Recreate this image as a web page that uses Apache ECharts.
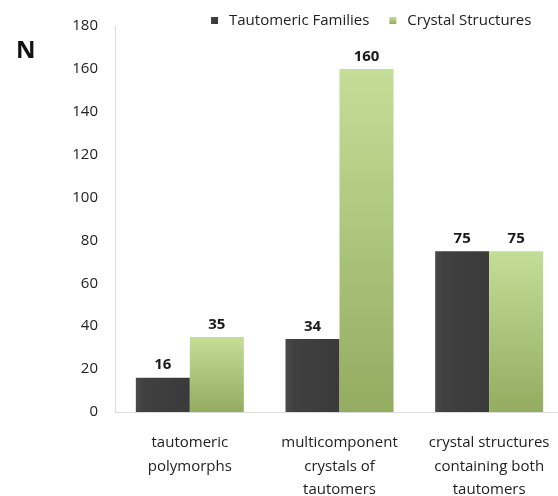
<!DOCTYPE html>
<html>
<head>
<meta charset="utf-8">
<script src="https://cdn.jsdelivr.net/npm/echarts@6/dist/echarts.min.js"></script>
<style>
  html, body { margin: 0; padding: 0; background: #fff; }
  #chart { width: 558px; height: 496px; }
</style>
</head>
<body>
<div id="chart"></div>
<script>
// Categories on the x axis (multi-line labels)
const categories = [
  'tautomeric\npolymorphs',
  'multicomponent\ncrystals of\ntautomers',
  'crystal structures\ncontaining both\ntautomers'
];
const seriesNames = ['Tautomeric Families', 'Crystal Structures'];
const tautomericFamilies = [16, 34, 75];
const crystalStructures = [35, 160, 75];
const yTicks = [0, 20, 40, 60, 80, 100, 120, 140, 160, 180];

const FONT = '"Open Sans", Lato, sans-serif';

const chart = echarts.init(document.getElementById('chart'), null, { renderer: 'canvas' });

const darkFill = new echarts.graphic.LinearGradient(0, 0, 1, 0, [
  { offset: 0, color: '#4a4a4a' },
  { offset: 0.15, color: '#404040' },
  { offset: 1, color: '#3a3a3a' }
]);
const greenFill = new echarts.graphic.LinearGradient(0, 0, 0, 1, [
  { offset: 0, color: '#c4de98' },
  { offset: 1, color: '#93ac60' }
]);

const valueLabel = {
  show: true,
  position: 'top',
  distance: 5,
  fontFamily: FONT,
  fontWeight: 'bold',
  fontSize: 15,
  color: '#1a1a1a'
};

chart.setOption({
  backgroundColor: '#ffffff',
  animation: false,
  textStyle: { fontFamily: FONT },
  legend: {
    data: seriesNames,
    left: 206,
    top: 8,
    icon: 'rect',
    itemWidth: 7,
    itemHeight: 7,
    itemGap: 20,
    textStyle: { fontFamily: FONT, fontSize: 15, color: '#222', padding: [0, 0, 0, 6] }
  },
  grid: { left: 115, right: -6, top: 26, bottom: 84, containLabel: false, outerBoundsMode: 'none' },
  xAxis: {
    type: 'category',
    data: categories,
    axisLine: { show: true, lineStyle: { color: '#dcdcdc', width: 1 } },
    axisTick: { show: false },
    axisLabel: {
      fontFamily: FONT,
      fontSize: 15,
      color: '#222',
      lineHeight: 23.5,
      margin: 19,
      interval: 0
    }
  },
  yAxis: {
    type: 'value',
    min: yTicks[0],
    max: yTicks[yTicks.length - 1],
    interval: yTicks[1] - yTicks[0],
    axisLine: { show: true, lineStyle: { color: '#dcdcdc', width: 1 } },
    axisTick: { show: false },
    splitLine: { show: false },
    axisLabel: { fontFamily: FONT, fontSize: 15, color: '#222', margin: 17 }
  },
  series: [
    {
      name: seriesNames[0],
      type: 'bar',
      data: tautomericFamilies,
      barWidth: 54,
      barGap: '0%',
      itemStyle: { color: darkFill },
      label: valueLabel
    },
    {
      name: seriesNames[1],
      type: 'bar',
      data: crystalStructures,
      barWidth: 54,
      itemStyle: { color: greenFill },
      label: valueLabel
    }
  ],
  graphic: [
    {
      type: 'text',
      x: 16,
      y: 51,
      style: {
        text: 'N', fontFamily: FONT, fontWeight: 'bold', fontSize: 24, fill: '#111',
        verticalAlign: 'middle'
      }
    }
  ]
});
</script>
</body>
</html>
